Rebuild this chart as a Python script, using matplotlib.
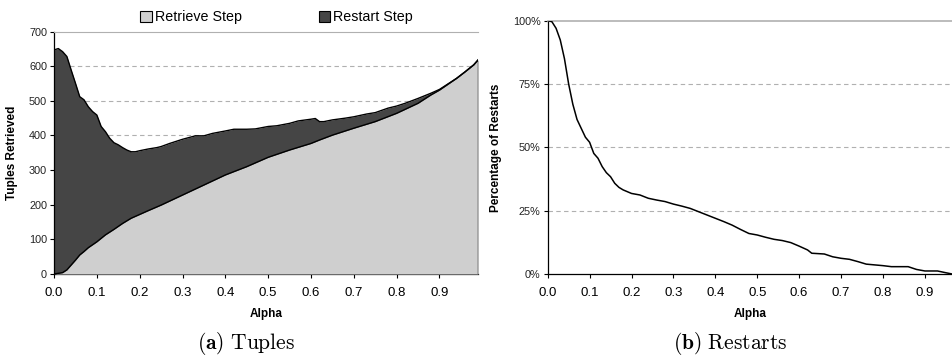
import numpy as np
import matplotlib
matplotlib.use("Agg")
import matplotlib.pyplot as plt
from matplotlib.patches import Patch
from matplotlib.ticker import FuncFormatter

plt.rcParams['font.family'] = ['Liberation Sans', 'DejaVu Sans']
plt.rcParams['mathtext.fontset'] = 'cm'

# ---------------- dados ----------------
# (a) total de tuplas (retrieve + restart)
alpha_total = [0.0, 0.01, 0.02, 0.03, 0.04, 0.05, 0.06, 0.07, 0.08, 0.09,
               0.10, 0.11, 0.12, 0.13, 0.14, 0.15, 0.16, 0.17, 0.18, 0.19,
               0.20, 0.22, 0.24, 0.25, 0.27, 0.30, 0.33, 0.35, 0.37, 0.40,
               0.42, 0.45, 0.47, 0.50, 0.52, 0.55, 0.57, 0.60, 0.61, 0.62,
               0.63, 0.65, 0.68, 0.70, 0.73, 0.75, 0.78, 0.80, 0.82, 0.85,
               0.87, 0.88, 0.90, 0.92, 0.94, 0.96, 0.98, 0.99]
tuplas_total = [647, 651, 642, 628, 589, 551, 512, 503, 483, 469,
                459, 426, 411, 392, 379, 373, 365, 358, 353, 353,
                356, 361, 365, 368, 377, 389, 399, 399, 406, 413,
                418, 418, 419, 426, 428, 435, 442, 447, 449, 440,
                440, 445, 450, 454, 462, 466, 479, 485, 493, 507,
                517, 522, 533, 549, 565, 584, 604, 618]

# (a) passo de retrieve
alpha_retrieve = [0.0, 0.01, 0.02, 0.03, 0.04, 0.05, 0.06, 0.07, 0.08, 0.10,
                  0.12, 0.14, 0.16, 0.18, 0.20, 0.22, 0.25, 0.30, 0.35, 0.40,
                  0.45, 0.50, 0.55, 0.60, 0.62, 0.65, 0.70, 0.75, 0.80, 0.85,
                  0.88, 0.90, 0.92, 0.94, 0.96, 0.98, 0.99]
tuplas_retrieve = [0, 2, 4, 12, 26, 40, 55, 65, 76, 93,
                   113, 129, 146, 161, 172, 183, 199, 228, 257, 286,
                   310, 337, 358, 377, 387, 401, 421, 440, 464, 493,
                   517, 531, 548, 565, 584, 604, 618]

# (b) porcentagem de restarts
alpha_restart = [0.0, 0.01, 0.02, 0.03, 0.04, 0.05, 0.06, 0.07, 0.08, 0.09,
                 0.10, 0.11, 0.12, 0.13, 0.14, 0.15, 0.16, 0.17, 0.18, 0.20,
                 0.22, 0.24, 0.26, 0.28, 0.30, 0.32, 0.34, 0.36, 0.38, 0.40,
                 0.42, 0.44, 0.46, 0.48, 0.50, 0.52, 0.54, 0.56, 0.58, 0.60,
                 0.62, 0.63, 0.66, 0.68, 0.70, 0.72, 0.74, 0.76, 0.78, 0.80,
                 0.82, 0.86, 0.88, 0.90, 0.93, 0.95, 0.965]
pct_restart = [100, 99.6, 97, 92.4, 85, 75, 67, 61, 57.5, 54,
               52, 47.6, 45.7, 42.4, 40, 38.4, 35.8, 34.2, 33.2, 31.8,
               31.2, 29.9, 29.2, 28.6, 27.6, 26.8, 25.9, 24.6, 23.3, 22,
               20.7, 19.3, 17.6, 16, 15.4, 14.5, 13.7, 13.2, 12.4, 11,
               9.5, 8.2, 7.9, 6.8, 6.2, 5.8, 4.9, 3.9, 3.6, 3.3,
               2.9, 2.9, 1.8, 1.2, 1.2, 0.5, 0]

xticks = [0.0, 0.1, 0.2, 0.3, 0.4, 0.5, 0.6, 0.7, 0.8, 0.9]

COR_CLARO = '#cfcfcf'
COR_ESCURO = '#454545'
COR_GRADE = '#b0b0b0'

fig = plt.figure(figsize=(9.53, 3.56), dpi=100)
ax1 = fig.add_axes([0.0567, 0.2303, 0.4449, 0.681])
ax2 = fig.add_axes([0.5747, 0.2303, 0.4253, 0.7116])


def estilo_eixo(ax):
    ax.set_xticks(xticks)
    ax.set_xticklabels([f'{t:.1f}' for t in xticks], fontsize=9.5)
    ax.tick_params(axis='x', direction='out', length=3, width=0.8, pad=6)
    ax.tick_params(axis='y', direction='out', length=3, width=0.8,
                   labelsize=7.8, labelcolor='#222222', pad=2)
    ax.spines['left'].set_linewidth(0.9)
    ax.spines['bottom'].set_linewidth(0.9)
    ax.set_xlabel('Alpha', fontsize=8.5, fontweight='bold', labelpad=7)
    ax.set_axisbelow(True)


# ---------------- (a) Tuples ----------------
x_comum = np.array(alpha_total)
retrieve_interp = np.interp(x_comum, alpha_retrieve, tuplas_retrieve)
total = np.maximum(np.array(tuplas_total), retrieve_interp)

ax1.fill_between(x_comum, 0, total, color=COR_ESCURO, lw=0, zorder=2)
ax1.fill_between(alpha_retrieve, 0, tuplas_retrieve, color=COR_CLARO, lw=0, zorder=3)
ax1.plot(x_comum, total, color='black', lw=1.0, zorder=4)
ax1.plot(alpha_retrieve, tuplas_retrieve, color='black', lw=1.0, zorder=4)
ax1.plot([x_comum[-1], x_comum[-1]], [0, total[-1]], color='black', lw=1.0, zorder=4)

ax1.set_xlim(0, 0.99)
ax1.set_ylim(0, 700)
ax1.set_yticks(range(0, 701, 100))
for v in range(100, 700, 100):
    ax1.axhline(v, color=COR_GRADE, lw=0.8, ls=(0, (4, 3)), zorder=1)
ax1.spines['top'].set_color(COR_GRADE)
ax1.spines['right'].set_visible(False)
estilo_eixo(ax1)
ax1.set_ylabel('Tuples Retrieved', fontsize=8.5, fontweight='bold', labelpad=8)

legenda = [Patch(facecolor=COR_CLARO, edgecolor='black', lw=0.8, label='Retrieve Step'),
           Patch(facecolor=COR_ESCURO, edgecolor='black', lw=0.8, label='Restart Step')]
ax1.legend(handles=legenda, loc='lower center', bbox_to_anchor=(0.525, 1.0),
           ncol=2, frameon=False, fontsize=10.3, handlelength=0.8, handleheight=0.8,
           handletextpad=0.2, columnspacing=5.4, borderaxespad=0.1)

# ---------------- (b) Restarts ----------------
ax2.plot(alpha_restart, np.array(pct_restart) / 100.0, color='black', lw=1.1, zorder=4)
ax2.set_xlim(0, 0.967)
ax2.set_ylim(0, 1.0)
ax2.set_yticks([0, 0.25, 0.5, 0.75, 1.0])
ax2.yaxis.set_major_formatter(FuncFormatter(lambda v, p: f'{v * 100:.0f}%'))
for v in [0.25, 0.5, 0.75]:
    ax2.axhline(v, color=COR_GRADE, lw=0.8, ls=(0, (4, 3)), zorder=1)
ax2.spines['top'].set_color(COR_GRADE)
ax2.spines['top'].set_linewidth(1.2)
ax2.spines['right'].set_visible(False)
estilo_eixo(ax2)
ax2.set_ylabel('Percentage of Restarts', fontsize=8.5, fontweight='bold', labelpad=8)

# legendas das subfiguras
fig.text(0.258, 0.036, r'$(\mathbf{a})\ \mathrm{Tuples}$', ha='center', va='center', fontsize=15.5)
fig.text(0.766, 0.036, r'$(\mathbf{b})\ \mathrm{Restarts}$', ha='center', va='center', fontsize=15.5)

fig.savefig('out.png', dpi=100)
